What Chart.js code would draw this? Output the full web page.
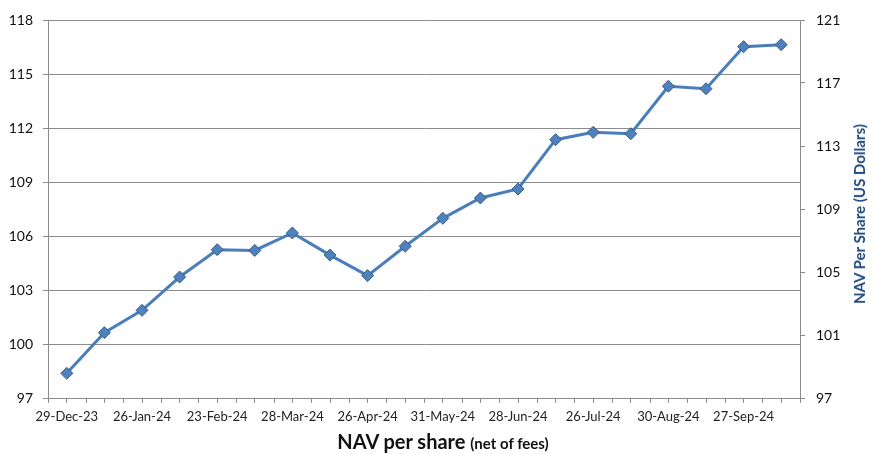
<!DOCTYPE html>
<html>
<head>
<meta charset="utf-8">
<script src="https://cdn.jsdelivr.net/npm/chart.js@4"></script>
<style>
  body { margin: 0; background: #fff; }
  #wrap { position: relative; width: 875px; height: 454px; }
  #navChart { position: absolute; left: 0; top: 0; }
  #xTitle {
    position: absolute; left: 443px; top: 441px; white-space: nowrap;
    transform: translate(-50%, -50%);
    font-family: Lato, sans-serif; font-weight: bold; color: #111;
    font-size: 20px;
  }
  #xTitle span { font-size: 15px; }
  #yTitle {
    position: absolute; left: 859px; top: 214px; white-space: nowrap;
    font-family: Lato, sans-serif; font-weight: bold; font-size: 15px;
    color: #1F497D; transform: translate(-50%, -50%) rotate(-90deg);
  }
</style>
</head>
<body>
<div id="wrap">
  <canvas id="navChart" width="875" height="454"></canvas>
  <div id="xTitle">NAV per share <span>(net of fees)</span></div>
  <div id="yTitle">NAV Per Share (US Dollars)</div>
</div>
<script>
'use strict';

const dates = [
  '29-Dec-23', '12-Jan-24', '26-Jan-24', '09-Feb-24', '23-Feb-24',
  '08-Mar-24', '28-Mar-24', '12-Apr-24', '26-Apr-24', '10-May-24',
  '31-May-24', '14-Jun-24', '28-Jun-24', '12-Jul-24', '26-Jul-24',
  '09-Aug-24', '30-Aug-24', '13-Sep-24', '27-Sep-24', '11-Oct-24'
];
const navValues = [
  98.37, 100.63, 101.87, 103.72, 105.24,
  105.20, 106.17, 104.94, 103.80, 105.43,
  106.98, 108.11, 108.61, 111.35, 111.76,
  111.68, 114.32, 114.18, 116.52, 116.63
];
const leftTicks = { min: 97, max: 118, step: 3 };
const rightTicks = { min: 97, max: 121, step: 4 };

const gridGrey = '#8c8c8c';

// small tick marks between categories (Excel draws them at both centres and edges)
const edgeTicks = {
  id: 'edgeTicks',
  afterDraw(chart) {
    const x = chart.scales.x;
    const ctx = chart.ctx;
    ctx.save();
    ctx.strokeStyle = gridGrey;
    ctx.lineWidth = 1;
    for (let i = 0; i <= dates.length; i++) {
      const px = Math.round(x.getPixelForValue(i - 0.5)) + 0.5;
      ctx.beginPath();
      ctx.moveTo(px, x.top);
      ctx.lineTo(px, x.top + 5);
      ctx.stroke();
    }
    ctx.restore();
  }
};

const ctx = document.getElementById('navChart').getContext('2d');

new Chart(ctx, {
  type: 'line',
  data: {
    labels: dates,
    datasets: [{
      label: 'NAV per share',
      data: navValues,
      borderColor: '#4A7EBB',
      borderWidth: 3,
      pointStyle: 'rectRot',
      pointRadius: 6,
      pointHoverRadius: 6,
      pointBackgroundColor: '#4F81BD',
      pointBorderColor: '#385D8A',
      pointBorderWidth: 1,
      tension: 0
    }]
  },
  options: {
    responsive: false,
    animation: false,
    layout: { padding: { top: 20, bottom: 0, left: 0, right: 0 } },
    plugins: {
      legend: { display: false },
      tooltip: { enabled: false }
    },
    scales: {
      x: {
        type: 'category',
        offset: true,
        afterFit(scale) { scale.height = 56; },
        grid: { offset: false, drawOnChartArea: false, tickLength: 5, color: gridGrey },
        border: { color: gridGrey },
        ticks: {
          autoSkip: false,
          maxRotation: 0,
          padding: 6,
          color: '#222',
          font: { family: 'Lato', size: 13 },
          callback(value, index) { return index % 2 === 0 ? dates[index] : ''; }
        }
      },
      y: {
        position: 'left',
        min: leftTicks.min,
        max: leftTicks.max,
        afterFit(scale) { scale.width = 48; },
        grid: { color: gridGrey, tickLength: 5 },
        border: { color: gridGrey },
        ticks: {
          stepSize: leftTicks.step,
          padding: 10,
          color: '#111',
          font: { family: 'Lato', size: 14 }
        }
      },
      y2: {
        position: 'right',
        min: rightTicks.min,
        max: rightTicks.max,
        afterFit(scale) { scale.width = 75; },
        grid: { drawOnChartArea: false, color: gridGrey, tickLength: 5 },
        border: { color: gridGrey },
        ticks: {
          stepSize: rightTicks.step,
          padding: 11,
          color: '#111',
          font: { family: 'Lato', size: 14 }
        }
      }
    }
  },
  plugins: [edgeTicks]
});
</script>
</body>
</html>
